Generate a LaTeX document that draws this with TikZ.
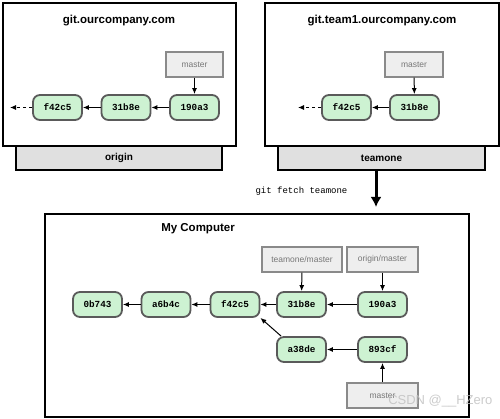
\documentclass[tikz,border=0pt]{standalone}
\usepackage{fontspec}
\setmainfont{Liberation Sans}
\setsansfont{Liberation Sans}
\setmonofont{Liberation Mono}
\usetikzlibrary{arrows.meta}
\definecolor{commitfill}{HTML}{CDF2D2}
\definecolor{commitdraw}{HTML}{5A5A5A}
\definecolor{reffill}{HTML}{EEEEEE}
\definecolor{refdraw}{HTML}{8A8A8A}
\definecolor{reftext}{HTML}{777777}
\definecolor{tabfill}{HTML}{E0E0E0}
\tikzset{
  commit/.style={draw=commitdraw, line width=1.8pt, fill=commitfill, rounded corners=7pt,
    minimum width=49pt, minimum height=25pt, inner sep=0pt,
    font=\fontsize{9.3}{10}\selectfont\ttfamily\bfseries},
  refbox/.style={draw=refdraw, line width=1.2pt, fill=reffill, minimum height=25pt, inner sep=0pt,
    text=reftext, font=\fontsize{8.5}{9}\selectfont},
  server/.style={draw=black, line width=1.2pt, fill=white, inner sep=0pt},
  tabbox/.style={draw=black, line width=1.2pt, fill=tabfill, inner sep=0pt,
    font=\fontsize{10}{11}\selectfont\bfseries},
  title/.style={font=\fontsize{11.5}{13}\selectfont\bfseries},
  link/.style={-{Latex[length=6pt,width=5pt]}, line width=1pt, black},
  dlink/.style={-{Latex[length=6pt,width=5pt]}, line width=1pt, black, dash pattern=on 3pt off 3pt}
}
\begin{document}
\begin{tikzpicture}[x=1pt,y=-1pt]
\useasboundingbox (0,0) rectangle (500,419);
\fill[white] (0,0) rectangle (500,419);

% ---- origin server ----
\node[tabbox, minimum width=206pt, minimum height=24pt] (otab) at (119,158) {origin};
\node[server, minimum width=233pt, minimum height=143pt] (obox) at (119.5,74.5) {};
\node[title] (otitle) at (119,21) {git.ourcompany.com};
\node[refbox, minimum width=57pt] (omaster) at (194.5,64.5) {master};
\node[commit] (o1) at (57.5,107.5) {f42c5};
\node[commit] (o2) at (126,107.5) {31b8e};
\node[commit] (o3) at (194.5,107.5) {190a3};
\coordinate (oend) at (10,107.5);
\draw[link] (omaster) -- (o3);
\draw[link] (o3) -- (o2);
\draw[link] (o2) -- (o1);
\draw[dlink] (o1) -- (oend);

% ---- teamone server ----
\node[tabbox, minimum width=207pt, minimum height=24pt] (ttab) at (381.5,158) {teamone};
\node[server, minimum width=234pt, minimum height=143pt] (tbox) at (382,74.5) {};
\node[title] (ttitle) at (382,21) {git.team1.ourcompany.com};
\node[refbox, minimum width=58pt] (tmaster) at (414,64.5) {master};
\node[commit] (t1) at (346.5,107.5) {f42c5};
\node[commit] (t2) at (414.5,107.5) {31b8e};
\coordinate (tend) at (298,107.5);
\draw[link] (tmaster) -- (t2);
\draw[link] (t2) -- (t1);
\draw[dlink] (t1) -- (tend);

% ---- fetch arrow ----
\coordinate (fstart) at (376,170);
\coordinate (fend) at (376,207);
\draw[-{Latex[length=10pt,width=11pt]}, line width=3pt] (fstart) -- (fend);
\node[font=\fontsize{9}{10}\selectfont\ttfamily, anchor=center] (fetch) at (301.5,191) {git fetch teamone};

% ---- my computer ----
\node[server, minimum width=424pt, minimum height=203pt] (mbox) at (257,315.5) {};
\node[title] (mtitle) at (198,229) {My Computer};
\node[refbox, minimum width=80pt] (mtm) at (302,259.5) {teamone/master};
\node[refbox, minimum width=71pt] (mom) at (382.5,259.5) {origin/master};
\node[commit] (c1) at (97.5,304.5) {0b743};
\node[commit] (c2) at (166,304.5) {a6b4c};
\node[commit] (c3) at (235,304.5) {f42c5};
\node[commit] (c4) at (301.5,304.5) {31b8e};
\node[commit] (c5) at (382.5,304.5) {190a3};
\node[commit] (c6) at (301.5,349.5) {a38de};
\node[commit] (c7) at (382.5,349.5) {893cf};
\node[refbox, minimum width=71pt] (mmaster) at (382.5,395.5) {master};
\draw[link] (mtm) -- (c4);
\draw[link] (mom) -- (c5);
\draw[link] (c5) -- (c4);
\draw[link] (c4) -- (c3);
\draw[link] (c3) -- (c2);
\draw[link] (c2) -- (c1);
\draw[link] (c7) -- (c6);
\draw[link] (c6.north west) ++(5,0) coordinate (c6a) (c6a) -- (c3.south east);
\draw[link] (mmaster) -- (c7);

% watermark
\node[text=black!25, font=\fontsize{13}{14}\selectfont, fill opacity=0.8, text opacity=0.8, anchor=east] (wm) at (496,401) {CSDN @\_\_HZero};
\end{tikzpicture}
\end{document}
